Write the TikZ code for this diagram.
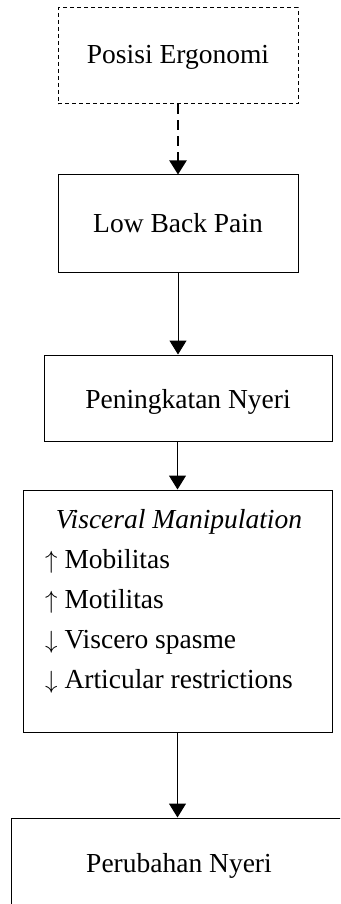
\documentclass[tikz,border=0pt]{standalone}
\usepackage{fontspec}
\setmainfont{Liberation Serif}
\usetikzlibrary{arrows.meta,calc}
\begin{document}
\begin{tikzpicture}[x=1pt,y=-1pt,
  box/.style={draw,line width=1pt,inner sep=0pt},
  lbl/.style={font=\fontsize{27.5}{32}\selectfont, anchor=base, inner sep=0pt},
  lbll/.style={font=\fontsize{27.5}{32}\selectfont, anchor=base west, inner sep=0pt},
  conn/.style={line width=1pt,-{Triangle[width=17pt,length=14pt]}},
]
\clip (0,0) rectangle (340,904);
\fill[white] (0,0) rectangle (340,904);
% boxes
\node[box,dash pattern=on 4pt off 3pt,minimum width=240pt,minimum height=96pt] (b1) at (178,56) {};
\node[box,minimum width=240pt,minimum height=97pt] (b2) at (178,223.5) {};
\node[box,minimum width=288pt,minimum height=86pt] (b3) at (188,398) {};
\node[box,minimum width=309pt,minimum height=242pt] (b4) at (177.5,611) {};
\node[box,minimum width=336pt,minimum height=92pt] (b5) at (179,864) {};
% texts
\node[lbl] (t1) at (178,64) {Posisi Ergonomi};
\node[lbl] (t2) at (178,232) {Low Back Pain};
\node[lbl] (t3) at (188,408) {Peningkatan Nyeri};
\node[lbl] (t4) at (179,528) {\itshape Visceral Manipulation};
\node[lbll] (t5) at (45,568) {$\uparrow$ Mobilitas};
\node[lbll] (t6) at (45,608) {$\uparrow$ Motilitas};
\node[lbll] (t7) at (45,648) {$\downarrow$ Viscero spasme};
\node[lbll] (t8) at (45,688) {$\downarrow$ Articular restrictions};
\node[lbl] (t9) at (179,872) {Perubahan Nyeri};
% connectors
\draw[conn,line width=2pt,dash pattern=on 10pt off 6pt] (b1.south) -- (b2.north);
\draw[conn] (b2.south) -- (b2.south |- b3.north);
\draw[conn] (b4.north |- b3.south) -- (b4.north);
\draw[conn] (b4.south) -- (b4.south |- b5.north);
\end{tikzpicture}
\end{document}
